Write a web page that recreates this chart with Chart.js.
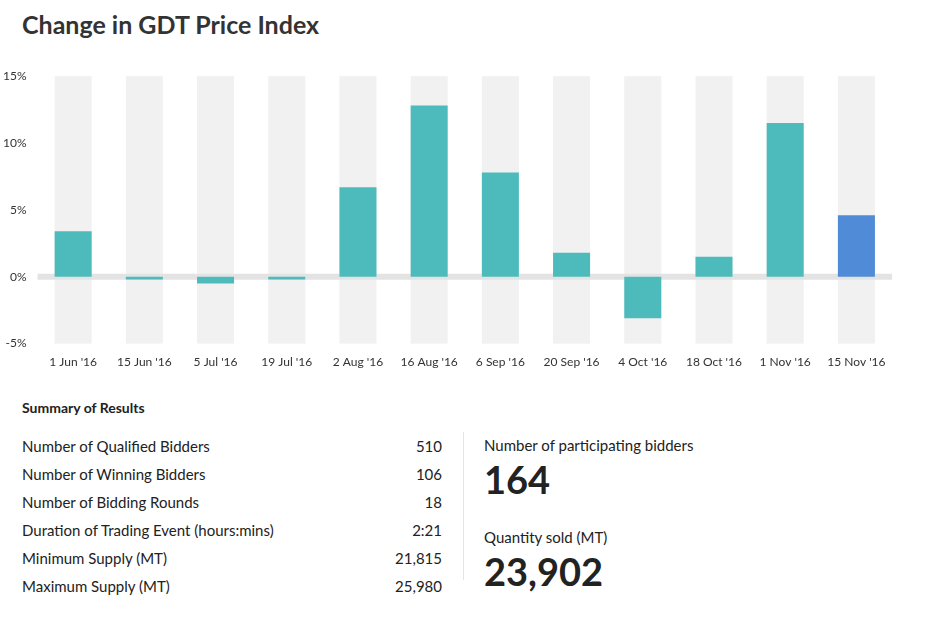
<!DOCTYPE html>
<html><head><meta charset="utf-8">
<script src="https://cdn.jsdelivr.net/npm/chart.js@4"></script>
<style>
body{margin:0;width:936px;height:621px;background:#fff;font-family:Lato,"Open Sans",sans-serif;color:#222;position:relative;overflow:hidden}
h1{position:absolute;left:22px;top:9px;margin:0;font-size:25px;font-weight:700;color:#333}
#wrap{position:absolute;left:0;top:66px;width:892px;height:306px}
#sum{position:absolute;left:22px;top:399px;font-size:14px;font-weight:700}
table{position:absolute;left:22px;top:432px;border-collapse:collapse;font-size:15px}
td{height:28px;padding:0}
td.v{text-align:right;width:150px}
#div{position:absolute;left:463px;top:432px;width:1px;height:148px;background:#e4e4e4}
.r{position:absolute;left:484px}
.lab{font-size:15px}
.big{font-size:38px;font-weight:700;color:#222}
</style></head><body>
<h1>Change in GDT Price Index</h1>
<div id="wrap"><canvas id="c"></canvas></div>
<div id="sum">Summary of Results</div>
<table id="t"></table>
<div id="div"></div>
<div class="r lab" style="top:436px">Number of participating bidders</div>
<div class="r big" style="top:456px">164</div>
<div class="r lab" style="top:528px">Quantity sold (MT)</div>
<div class="r big" style="top:548px">23,902</div>
<script>
const events = ["1 Jun '16","15 Jun '16","5 Jul '16","19 Jul '16","2 Aug '16","16 Aug '16","6 Sep '16","20 Sep '16","4 Oct '16","18 Oct '16","1 Nov '16","15 Nov '16"];
const changes = [3.4, -0.2, -0.5, -0.2, 6.7, 12.8, 7.8, 1.8, -3.1, 1.5, 11.5, 4.6];
const summaryLabels = ["Number of Qualified Bidders","Number of Winning Bidders","Number of Bidding Rounds","Duration of Trading Event (hours:mins)","Minimum Supply (MT)","Maximum Supply (MT)"];
const summaryValues = ["510","106","18","2:21","21,815","25,980"];

const t = document.getElementById("t");
summaryLabels.forEach((l, i) => {
  const tr = document.createElement("tr");
  tr.innerHTML = `<td style="width:270px">${l}</td><td class="v">${summaryValues[i]}</td>`;
  t.appendChild(tr);
});

// grey column bands behind each bar, plus the thick zero line
const bands = {
  id: "bands",
  beforeDatasetsDraw(chart) {
    const { ctx, chartArea: a, scales: { x, y } } = chart;
    const meta = chart.getDatasetMeta(0);
    ctx.save();
    ctx.fillStyle = "#f1f1f1";
    meta.data.forEach((b) => {
      ctx.fillRect(b.x - b.width / 2, a.top, b.width, a.bottom - a.top);
    });
    ctx.fillStyle = "#e3e3e3";
    const y0 = y.getPixelForValue(0);
    ctx.fillRect(a.left, y0 - 3, a.right - a.left, 6);
    ctx.restore();
  }
};

new Chart(document.getElementById("c"), {
  type: "bar",
  data: {
    labels: events,
    datasets: [{
      data: changes,
      backgroundColor: changes.map((_, i) => i === changes.length - 1 ? "#4f8bd6" : "#4dbbbb"),
      barPercentage: 1,
      categoryPercentage: 0.52
    }]
  },
  options: {
    responsive: true,
    maintainAspectRatio: false,
    animation: false,
    layout: { padding: { left: 0, right: 0, top: 10, bottom: 0 } },
    plugins: { legend: { display: false }, tooltip: { enabled: false } },
    scales: {
      x: {
        grid: { display: false },
        border: { display: false },
        ticks: { color: "#333", font: { family: "Lato", size: 12 }, maxRotation: 0, autoSkip: false }
      },
      y: {
        min: -5, max: 15,
        grid: { display: false },
        border: { display: false },
        ticks: { stepSize: 5, color: "#333", font: { family: "Lato", size: 12 }, callback: (v) => v + "%" }
      }
    }
  },
  plugins: [bands]
});
</script>
</body></html>
